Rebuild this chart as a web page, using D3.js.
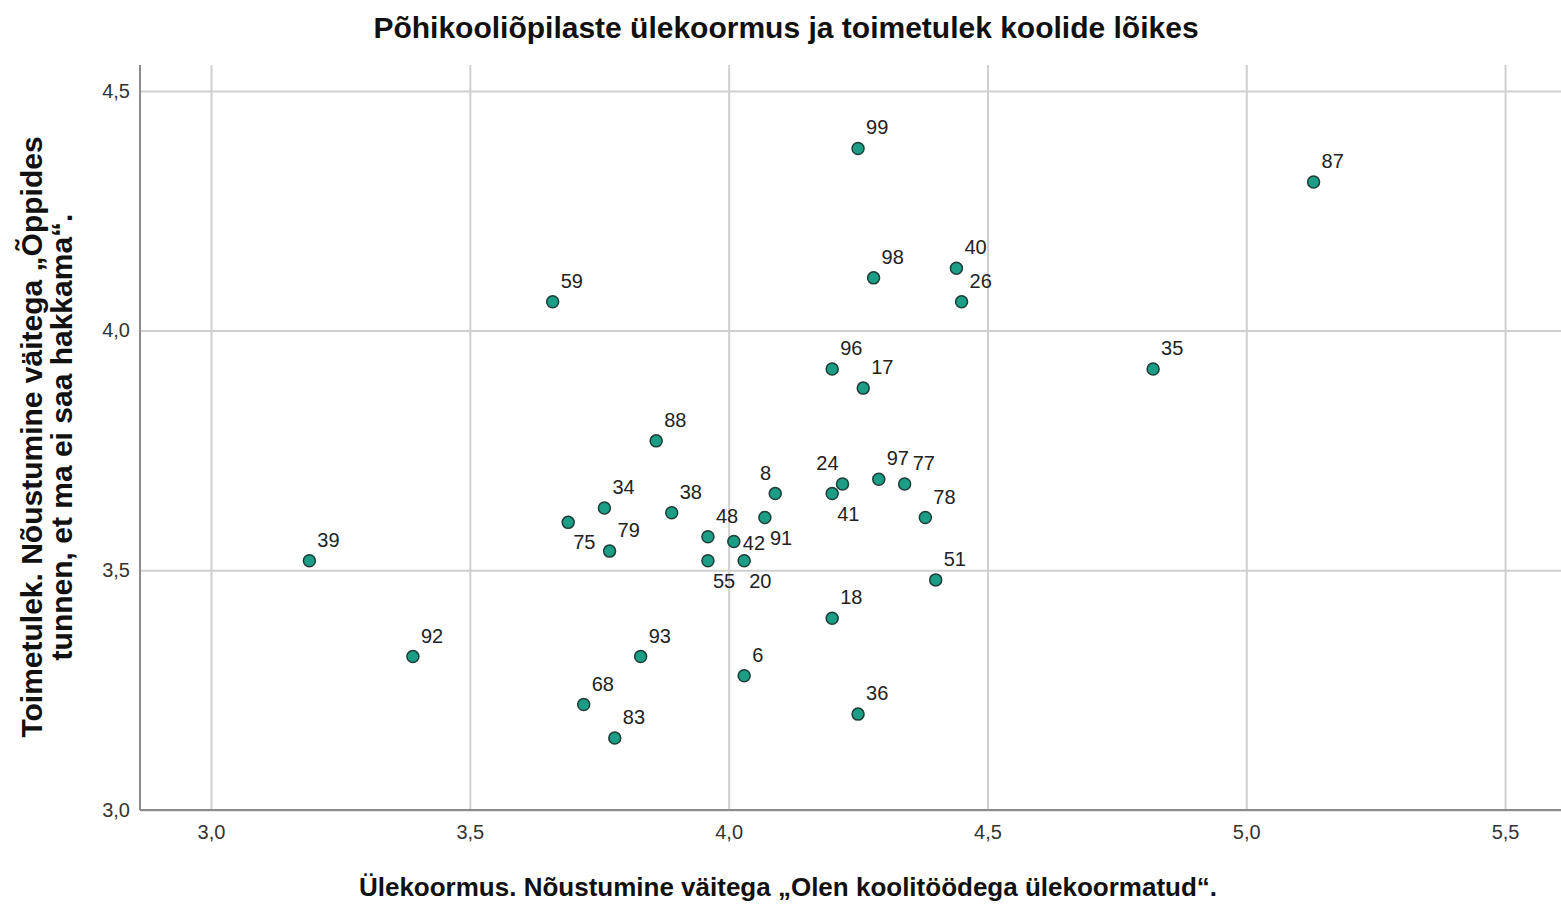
<!DOCTYPE html>
<html>
<head>
<meta charset="utf-8">
<script src="https://cdn.jsdelivr.net/npm/d3@7"></script>
<style>
  body { margin: 0; background: #fff; }
  svg { display: block; font-family: "Liberation Sans", Arial, sans-serif; }
</style>
</head>
<body>
<div id="chart"></div>
<script>
// --------------------------------------
//  Data
// --------------------------------------

const schoolIds = [99, 87, 40, 98, 26, 59, 96, 35, 17, 88, 8, 24, 41, 97, 77, 78, 34, 38, 75, 79,
  48, 42, 91, 55, 20, 51, 39, 18, 92, 93, 6, 68, 36, 83];
const overload = [4.25, 5.13, 4.44, 4.28, 4.45, 3.66, 4.20, 4.82, 4.26, 3.86, 4.09, 4.22, 4.20, 4.29, 4.34, 4.38, 3.76, 3.89, 3.69, 3.77,
  3.96, 4.01, 4.07, 3.96, 4.03, 4.40, 3.19, 4.20, 3.39, 3.83, 4.03, 3.72, 4.25, 3.78];
const coping = [4.38, 4.31, 4.13, 4.11, 4.06, 4.06, 3.92, 3.92, 3.88, 3.77, 3.66, 3.68, 3.66, 3.69, 3.68, 3.61, 3.63, 3.62, 3.60, 3.54,
  3.57, 3.56, 3.61, 3.52, 3.52, 3.48, 3.52, 3.40, 3.32, 3.32, 3.28, 3.22, 3.20, 3.15];

const xTicks = [3.0, 3.5, 4.0, 4.5, 5.0, 5.5];
const yTicks = [3.0, 3.5, 4.0, 4.5];

// where the label sits next to its point (default is above-right)
const labelPlacement = {8: "nw", 24: "nw", 41: "se", 75: "se", 91: "se", 55: "se", 20: "se", 42: "e"};

const titleText = "Põhikooliõpilaste ülekoormus ja toimetulek koolide lõikes";
const xTitle = "Ülekoormus. Nõustumine väitega „Olen koolitöödega ülekoormatud“.";
const yTitleLines = ["Toimetulek. Nõustumine väitega „Õppides", "tunnen, et ma ei saa hakkama“."];

// --------------------------------------
//  Margin and canvas
// --------------------------------------

const width = 1561;
const height = 905;
const margin = {top: 65, right: 0, bottom: 95, left: 140};
const innerWidth = width - margin.left - margin.right;
const innerHeight = height - margin.top - margin.bottom;

const svg = d3.select("#chart")
  .append("svg")
    .attr("width", width)
    .attr("height", height)
    .attr("viewBox", `0, 0, ${width}, ${height}`);

const innerChart = svg
  .append("g")
    .attr("transform", `translate(${margin.left}, ${margin.top})`);

// --------------------------------------
//  Scales
// --------------------------------------

const xScale = d3.scaleLinear()
  .domain([2.8628, 5.608])
  .range([0, innerWidth]);

const yScale = d3.scaleLinear()
  .domain([3.0, 4.554])
  .range([innerHeight, 0]);

const fmt = (d) => d3.format(".1f")(d).replace(".", ",");

// --------------------------------------
//  Grid and axes
// --------------------------------------

const xAxis = innerChart.append("g")
  .attr("transform", `translate(0, ${innerHeight})`)
  .call(d3.axisBottom(xScale).tickValues(xTicks).tickFormat(fmt).tickSize(-innerHeight).tickPadding(15));

const yAxis = innerChart.append("g")
  .call(d3.axisLeft(yScale).tickValues(yTicks).tickFormat(fmt).tickSize(-innerWidth).tickPadding(10));

[xAxis, yAxis].forEach((ax) => {
  ax.attr("font-size", 20).attr("font-family", "'Liberation Sans', Arial, sans-serif");
  ax.select(".domain").remove();
  ax.selectAll(".tick line").attr("stroke", "#cfcfcf").attr("stroke-width", 2);
  ax.selectAll(".tick text").attr("fill", "#333");
});

// axis lines on top of grid
innerChart.append("line")
  .attr("x1", 0).attr("x2", 0)
  .attr("y1", 0).attr("y2", innerHeight)
  .attr("stroke", "#8c8c8c").attr("stroke-width", 2);

innerChart.append("line")
  .attr("x1", 0).attr("x2", innerWidth)
  .attr("y1", innerHeight).attr("y2", innerHeight)
  .attr("stroke", "#8c8c8c").attr("stroke-width", 2);

// --------------------------------------
//  Points and labels
// --------------------------------------

const points = schoolIds.map((id, i) => ({id, x: overload[i], y: coping[i], pos: labelPlacement[id] || "ne"}));

innerChart.selectAll("circle")
  .data(points)
  .join("circle")
    .attr("cx", (d) => xScale(d.x))
    .attr("cy", (d) => yScale(d.y))
    .attr("r", 6)
    .attr("fill", "#1c9e86")
    .attr("stroke", "#1d3d36")
    .attr("stroke-width", 1.5);

const offsets = {
  ne: {dx: 8, dy: -14, anchor: "start"},
  nw: {dx: -4, dy: -14, anchor: "end"},
  se: {dx: 5, dy: 27, anchor: "start"},
  e: {dx: 9, dy: 8, anchor: "start"}
};

innerChart.selectAll(".pt-label")
  .data(points)
  .join("text")
    .attr("class", "pt-label")
    .text((d) => d.id)
    .attr("x", (d) => xScale(d.x) + offsets[d.pos].dx)
    .attr("y", (d) => yScale(d.y) + offsets[d.pos].dy)
    .attr("text-anchor", (d) => offsets[d.pos].anchor)
    .attr("fill", "#222")
    .style("font-size", "20px");

// --------------------------------------
//  Titles
// --------------------------------------

svg.append("text")
  .attr("x", 786)
  .attr("y", 38)
  .attr("text-anchor", "middle")
  .attr("fill", "#111")
  .style("font-size", "30px")
  .style("font-weight", "bold")
  .text(titleText);

svg.append("text")
  .attr("x", 788)
  .attr("y", 896)
  .attr("text-anchor", "middle")
  .attr("fill", "#111")
  .style("font-size", "26px")
  .style("font-weight", "bold")
  .text(xTitle);

const yTitle = svg.append("text")
  .attr("transform", "translate(0, 437) rotate(-90)")
  .attr("text-anchor", "middle")
  .attr("fill", "#111")
  .style("font-size", "30px")
  .style("font-weight", "bold");

yTitle.selectAll("tspan")
  .data(yTitleLines)
  .join("tspan")
    .attr("x", 0)
    .attr("y", (d, i) => 42 + i * 30)
    .text((d) => d);
</script>
</body>
</html>
